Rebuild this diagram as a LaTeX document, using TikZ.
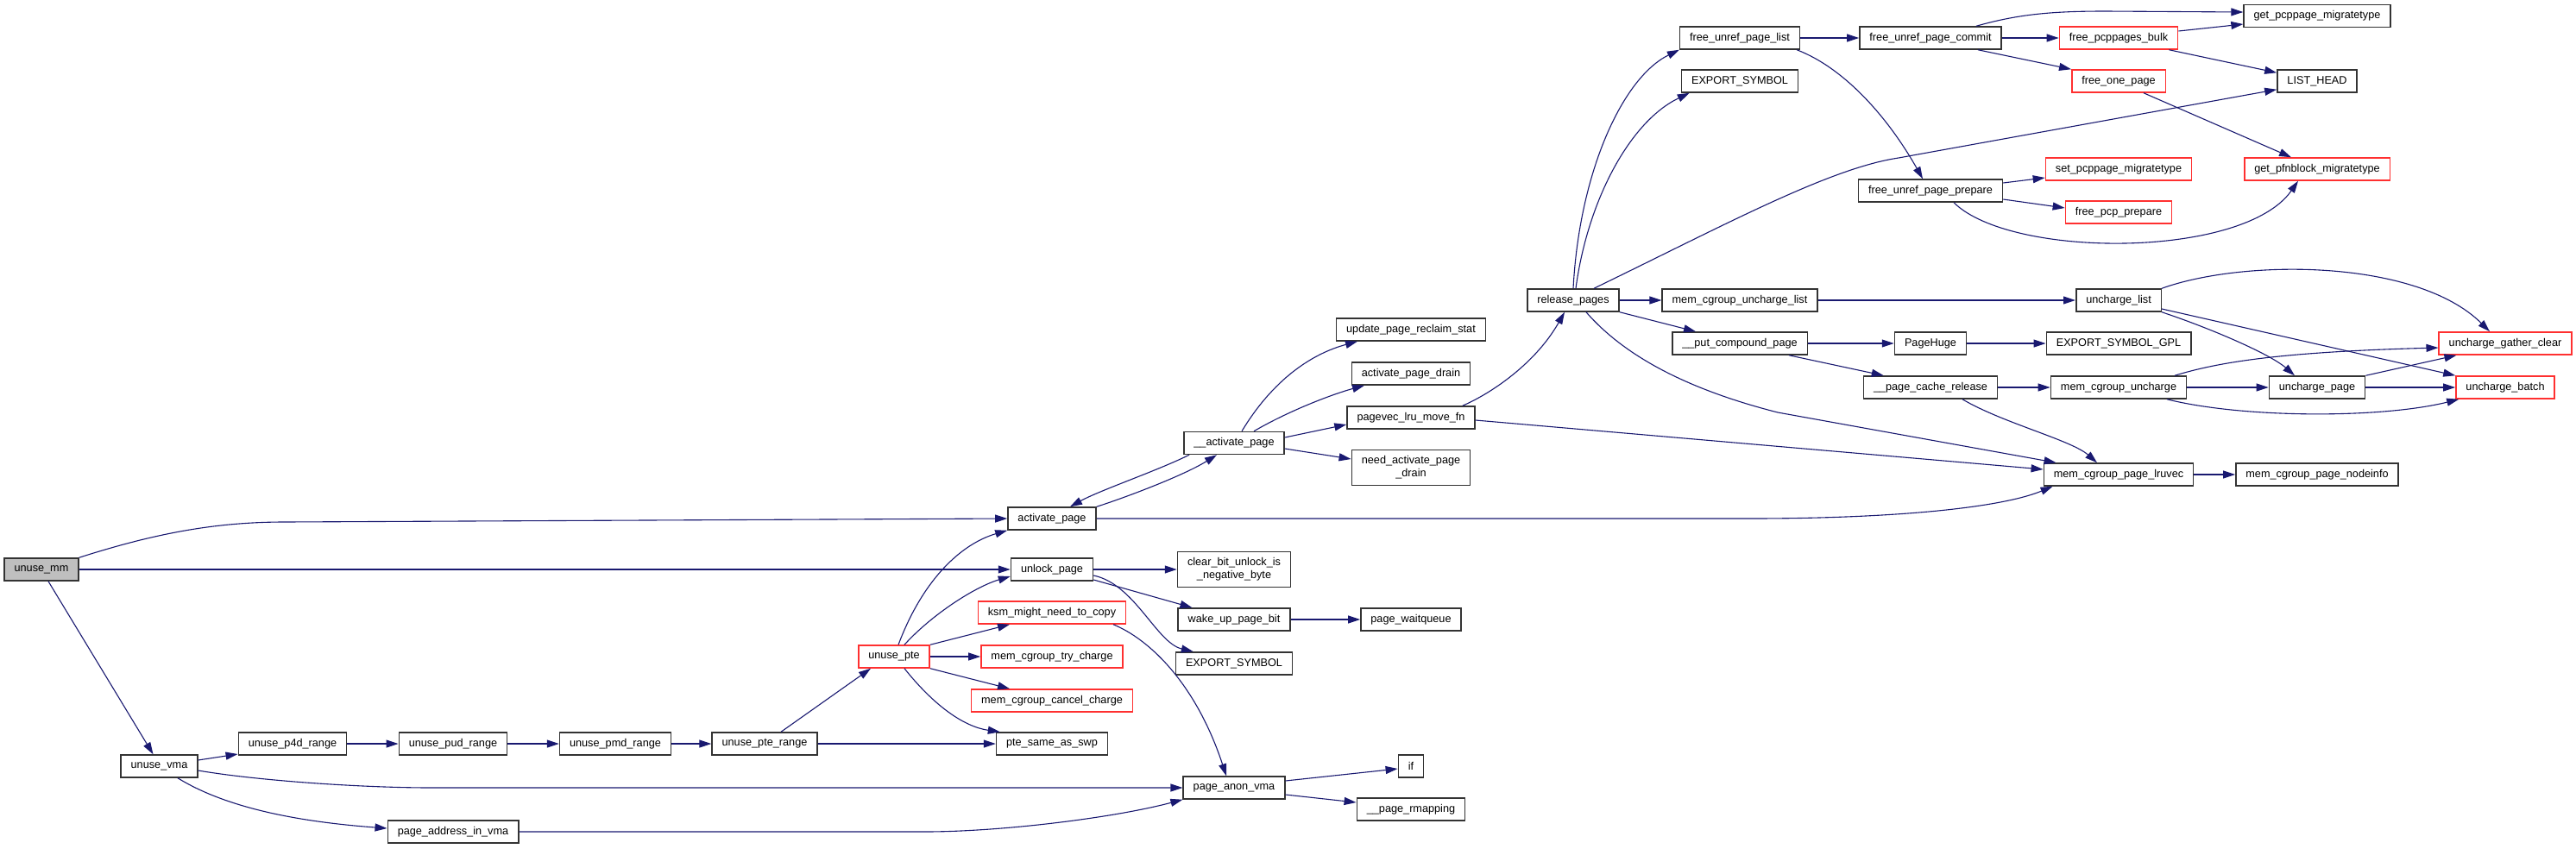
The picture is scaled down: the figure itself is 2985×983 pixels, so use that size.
\documentclass[tikz,border=0pt]{standalone}
\usepackage{fontspec}
\setmainfont{Liberation Sans}
\usetikzlibrary{arrows.meta}
\definecolor{edgeblue}{HTML}{191970}
\definecolor{nodeborder}{HTML}{333333}
\definecolor{trunc}{HTML}{FF3030}
\definecolor{rootgray}{HTML}{BFBFBF}
\tikzset{
  fn/.style={draw=nodeborder, line width=1.5pt, fill=white, rectangle,
    minimum height=26pt, inner xsep=11.5pt, inner ysep=2pt, align=center},
  fnred/.style={fn, draw=trunc},
  fnroot/.style={fn, fill=rootgray},
  fntwo/.style={fn, minimum height=41pt},
  call/.style={draw=edgeblue, line width=1.1pt, -{Triangle[length=14pt,width=9pt]}},
}
\begin{document}
\begin{tikzpicture}[x=1pt,y=-1pt,font=\fontsize{12.7}{15}\selectfont]
\useasboundingbox (0,0) rectangle (2985,983);
% callers on the left
\node[fnroot] (mm) at (48,660) {unuse\_mm};
\node[fn] (vma) at (184.5,888) {unuse\_vma};
\node[fn] (pfour) at (339,862) {unuse\_p4d\_range};
\node[fn] (pud) at (525,862) {unuse\_pud\_range};
\node[fn] (pmd) at (713,862) {unuse\_pmd\_range};
\node[fn] (pterange) at (886,862) {unuse\_pte\_range};
\node[fn] (addrvma) at (525,964) {page\_address\_in\_vma};
\node[fnred] (pte) at (1036,761) {unuse\_pte};
% column of activate_page
\node[fn] (actpage) at (1219,601) {activate\_page};
\node[fn] (unlock) at (1219,660) {unlock\_page};
\node[fnred] (ksm) at (1219,710) {ksm\_might\_need\_to\_copy};
\node[fnred] (trycharge) at (1219,761) {mem\_cgroup\_try\_charge};
\node[fnred] (cancelcharge) at (1219,812) {mem\_cgroup\_cancel\_charge};
\node[fn] (ptesame) at (1219,862) {pte\_same\_as\_swp};
\node[fntwo] (clearbit) at (1430,660) {clear\_bit\_unlock\_is\\\_negative\_byte};
\node[fn] (wakeup) at (1430,718) {wake\_up\_page\_bit};
\node[fn] (expsym) at (1430,769) {EXPORT\_SYMBOL};
\node[fn] (anonvma) at (1430,913) {page\_anon\_vma};
\node[fn] (uactpage) at (1430,513.5) {\_\_activate\_page};
\node[fn] (waitq) at (1635,718) {page\_waitqueue};
\node[fn] (ifnode) at (1635,888) {if};
\node[fn] (rmapping) at (1635,938) {\_\_page\_rmapping};
\node[fn] (reclaimstat) at (1635,382) {update\_page\_reclaim\_stat};
\node[fn] (actdrain) at (1635,433) {activate\_page\_drain};
\node[fn] (pagevec) at (1635,484) {pagevec\_lru\_move\_fn};
\node[fntwo] (needdrain) at (1635,542) {need\_activate\_page\\\_drain};
% release_pages and below
\node[fn] (release) at (1823,348) {release\_pages};
\node[fn] (freelist) at (2016,44) {free\_unref\_page\_list};
\node[fn] (expsymtop) at (2016,94) {EXPORT\_SYMBOL};
\node[fn] (uncharglist) at (2016,348) {mem\_cgroup\_uncharge\_list};
\node[fn] (putcompound) at (2016,398) {\_\_put\_compound\_page};
\node[fn] (freecommit) at (2237,44) {free\_unref\_page\_commit};
\node[fn] (freeprepare) at (2237,221) {free\_unref\_page\_prepare};
\node[fn] (pagehuge) at (2237,398) {PageHuge};
\node[fn] (cacherelease) at (2237,449) {\_\_page\_cache\_release};
\node[fnred] (pcpbulk) at (2455,44) {free\_pcppages\_bulk};
\node[fnred] (freeone) at (2455,94) {free\_one\_page};
\node[fnred] (setpcp) at (2455,196) {set\_pcppage\_migratetype};
\node[fnred] (freepcp) at (2455,246) {free\_pcp\_prepare};
\node[fn] (unchlist) at (2455,348) {uncharge\_list};
\node[fn] (expgpl) at (2455,398) {EXPORT\_SYMBOL\_GPL};
\node[fn] (mcguncharge) at (2455,449) {mem\_cgroup\_uncharge};
\node[fn] (lruvec) at (2455,550) {mem\_cgroup\_page\_lruvec};
\node[fn] (getpcp) at (2685,18.5) {get\_pcppage\_migratetype};
\node[fn] (listhead) at (2685,94) {LIST\_HEAD};
\node[fnred] (getpfn) at (2685,196) {get\_pfnblock\_migratetype};
\node[fn] (unchpage) at (2685,449) {uncharge\_page};
\node[fn] (nodeinfo) at (2685,550) {mem\_cgroup\_page\_nodeinfo};
\node[fnred] (gatherclear) at (2903,398) {uncharge\_gather\_clear};
\node[fnred] (unchbatch) at (2903,449) {uncharge\_batch};
% calls from unuse_mm and unuse_vma
\draw[call] (mm.north east) .. controls (180,618) and (250,605) .. (330,605) -- (actpage.west);
\draw[call] (mm.east) -- (unlock.west);
\draw[call] ([xshift=8pt]mm.south) -- ([xshift=-7pt]vma.north);
\draw[call] ([yshift=7pt]vma.east) -- ([yshift=-12pt]pfour.west);
\draw[call] ([yshift=-5pt]vma.east) .. controls (300,905) and (420,913) .. (500,913) -- (anonvma.west);
\draw[call] ([xshift=21.5pt]vma.south) .. controls (260,935) and (340,952) .. ([yshift=4pt]addrvma.west);
\draw[call] (pfour) -- (pud);
\draw[call] (pud) -- (pmd);
\draw[call] (pmd) -- (pterange);
\draw[call] ([xshift=19pt]pterange.north) -- ([xshift=-27pt]pte.south);
\draw[call] (pterange.east) -- (ptesame.west);
\draw[call] (addrvma.east) -- (1072,964) .. controls (1160,964) and (1290,948) .. (anonvma.south west);
% calls from unuse_pte
\draw[call] ([xshift=5pt]pte.north) .. controls (1070,670) and (1115,630) .. (actpage.south west);
\draw[call] ([xshift=12pt]pte.north) .. controls (1080,712) and (1130,680) .. ([yshift=-8pt]unlock.west);
\draw[call] (pte.north east) -- ([xshift=-49pt]ksm.south);
\draw[call] (pte.east) -- (trycharge.west);
\draw[call] (pte.south east) -- ([xshift=-49pt]cancelcharge.north);
\draw[call] ([xshift=12pt]pte.south) .. controls (1080,815) and (1115,842) .. ([xshift=5pt]ptesame.north west);
% unlock_page, ksm and page_anon_vma
\draw[call] (unlock.east) -- (clearbit.west);
\draw[call] ([yshift=-12pt]unlock.east) -- ([xshift=17pt]wakeup.north west);
\draw[call] ([yshift=-7pt]unlock.east) .. controls (1315,677) and (1340,745) .. ([xshift=21pt]expsym.north west);
\draw[call] ([xshift=71pt]ksm.south) .. controls (1330,740) and (1385,790) .. ([xshift=-9pt]anonvma.north);
\draw[call] (wakeup.east) -- (waitq.west);
\draw[call] ([yshift=8pt]anonvma.east) -- ([yshift=-3pt]ifnode.west);
\draw[call] ([yshift=-8pt]anonvma.east) -- ([yshift=8pt]rmapping.west);
% activate_page and __activate_page
\draw[call] (actpage.north east) .. controls (1300,578) and (1370,552) .. ([xshift=-20pt]uactpage.south);
\draw[call] ([xshift=-52pt]uactpage.south) .. controls (1340,546) and (1275,568) .. ([xshift=21pt]actpage.north);
\draw[call] ([xshift=9pt]uactpage.north) .. controls (1475,440) and (1520,410) .. ([xshift=-62pt]reclaimstat.south);
\draw[call] ([xshift=23pt]uactpage.north) .. controls (1490,478) and (1540,458) .. ([xshift=-54pt]actdrain.south);
\draw[call] ([yshift=6.5pt]uactpage.east) -- ([yshift=-8pt]pagevec.west);
\draw[call] ([yshift=-6.5pt]uactpage.east) -- ([yshift=10pt]needdrain.west);
\draw[call] (actpage.east) -- (2028,601) .. controls (2200,601) and (2320,588) .. ([xshift=11pt]lruvec.south west);
\draw[call] ([xshift=-15pt]pagevec.north east) .. controls (1730,455) and (1780,420) .. ([xshift=-10pt]release.south);
\draw[call] ([yshift=-3pt]pagevec.east) -- ([yshift=6pt]lruvec.west);
% release_pages
\draw[call] (release.north) .. controls (1830,200) and (1880,90) .. (freelist.south west);
\draw[call] ([xshift=3pt]release.north) .. controls (1840,230) and (1890,140) .. ([xshift=10pt]expsymtop.south west);
\draw[call] ([xshift=24pt]release.north) .. controls (2000,260) and (2120,195) .. (2200,183) -- ([yshift=4pt]listhead.south west);
\draw[call] (release.east) -- (uncharglist.west);
\draw[call] (release.south east) -- ([xshift=28pt]putcompound.north west);
\draw[call] ([xshift=15pt]release.south) .. controls (1880,410) and (1950,450) .. (2060,478) -- ([xshift=15pt]lruvec.north west);
% free_unref_page_*
\draw[call] (freelist.east) -- (freecommit.west);
\draw[call] ([xshift=-4pt]freelist.south east) .. controls (2140,80) and (2190,140) .. ([xshift=-9pt]freeprepare.north);
\draw[call] ([xshift=53pt]freecommit.north) .. controls (2340,16) and (2380,13) .. (2440,13) -- ([yshift=4.5pt]getpcp.west);
\draw[call] (freecommit.east) -- (pcpbulk.west);
\draw[call] ([xshift=55pt]freecommit.south) -- (freeone.north west);
\draw[call] ([yshift=8pt]pcpbulk.east) -- ([yshift=-9.5pt]getpcp.west);
\draw[call] ([xshift=-11pt]pcpbulk.south east) -- ([yshift=-4pt]listhead.north west);
\draw[call] ([xshift=29pt]freeone.south) -- ([xshift=-30pt]getpfn.north);
\draw[call] ([yshift=9pt]freeprepare.east) -- ([yshift=-10pt]setpcp.west);
\draw[call] ([yshift=-10pt]freeprepare.east) -- ([yshift=5pt]freepcp.west);
\draw[call] ([xshift=27pt]freeprepare.south) .. controls (2330,300) and (2600,300) .. ([xshift=-22pt]getpfn.south);
% uncharge path
\draw[call] (uncharglist.east) -- (unchlist.west);
\draw[call] (unchlist.north east) .. controls (2600,300) and (2800,300) .. ([xshift=-18pt]gatherclear.north);
\draw[call] (unchlist.south east) .. controls (2560,380) and (2630,410) .. ([xshift=-26pt]unchpage.north);
\draw[call] ([yshift=-10pt]unchlist.east) -- (unchbatch.north west);
\draw[call] (putcompound.east) -- (pagehuge.west);
\draw[call] ([xshift=57pt]putcompound.south) -- ([xshift=24pt]cacherelease.north west);
\draw[call] (pagehuge.east) -- (expgpl.west);
\draw[call] (cacherelease.east) -- (mcguncharge.west);
\draw[call] ([xshift=37pt]cacherelease.south) .. controls (2320,490) and (2400,510) .. ([xshift=-25pt]lruvec.north);
\draw[call] ([xshift=65pt]mcguncharge.north) .. controls (2570,420) and (2640,408) .. ([yshift=-5pt]gatherclear.west);
\draw[call] (mcguncharge.east) -- (unchpage.west);
\draw[call] ([xshift=56pt]mcguncharge.south) .. controls (2600,485) and (2760,485) .. ([xshift=4pt]unchbatch.south west);
\draw[call] (unchpage.north east) -- ([xshift=21pt]gatherclear.south west);
\draw[call] (unchpage.east) -- (unchbatch.west);
\draw[call] (lruvec.east) -- (nodeinfo.west);
\end{tikzpicture}
\end{document}
